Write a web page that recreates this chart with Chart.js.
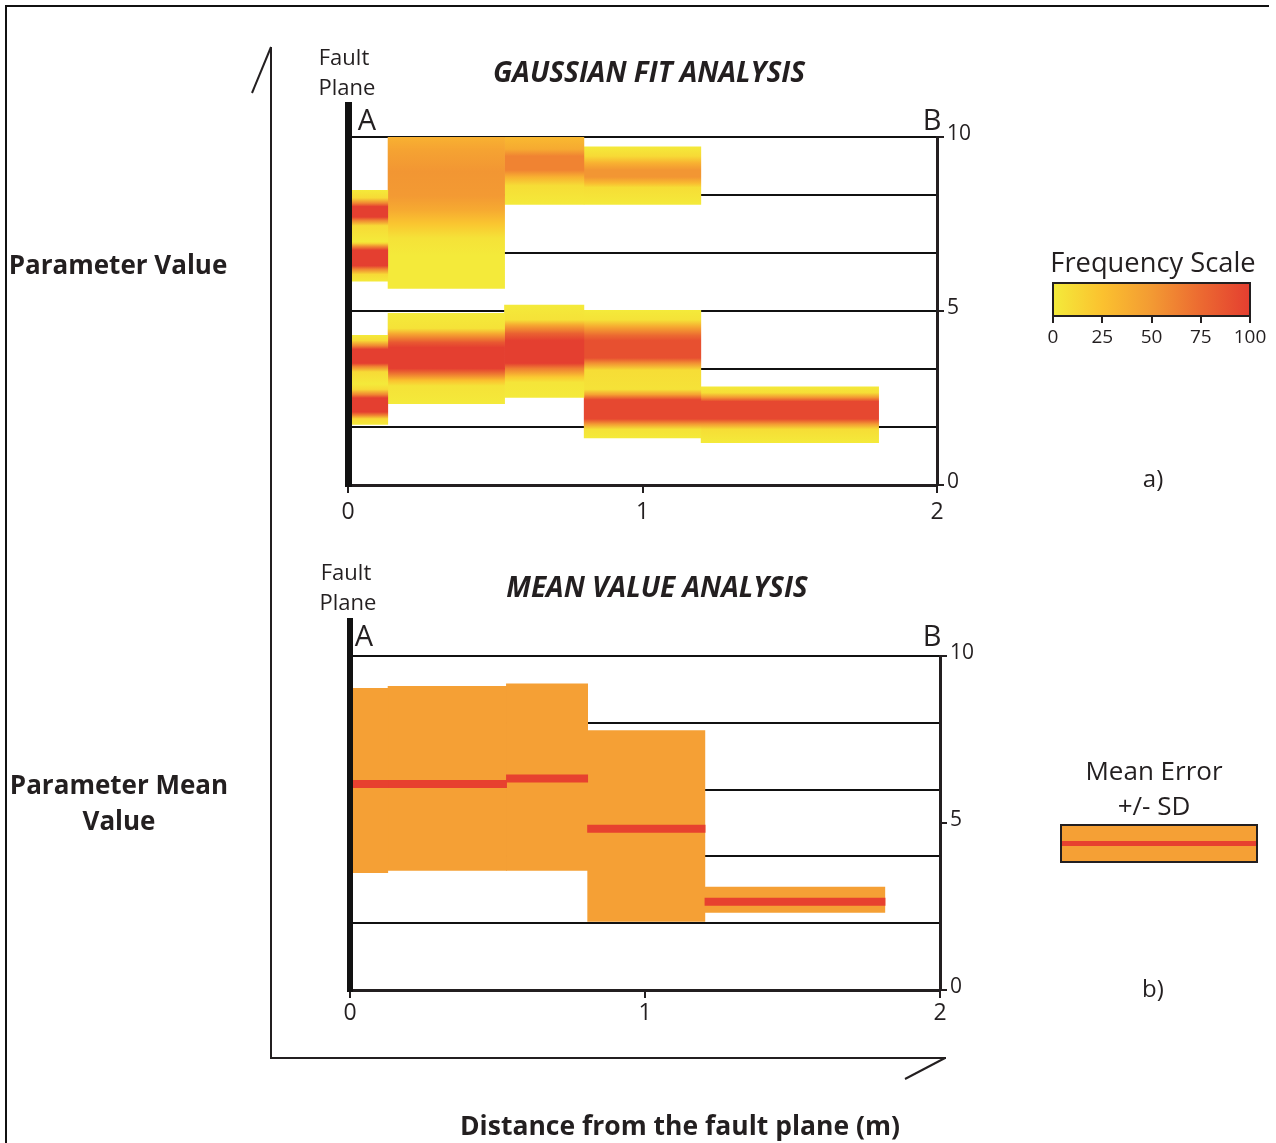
<!DOCTYPE html>
<html>
<head>
<meta charset="utf-8">
<script src="https://cdn.jsdelivr.net/npm/chart.js@4.4.1/dist/chart.umd.min.js"></script>
<style>
  body { margin: 0; background: #fff; font-family: "Open Sans", "Noto Sans", sans-serif; color: #231f20; }
  #page { position: relative; width: 1276px; height: 1143px; overflow: hidden; }
  #frame { position: absolute; left: 5px; top: 5px; width: 1262px; height: 1140px; border-top: 2px solid #111; border-left: 2px solid #111; }
  .t { position: absolute; transform: translate(-50%, -50%); white-space: nowrap; line-height: 1; }
  .b { font-weight: 700; }
  .bi { font-weight: 700; font-style: italic; }
  canvas { position: absolute; }
  svg { position: absolute; left: 0; top: 0; }
  .box { position: absolute; box-sizing: border-box; border: 2px solid #231f20; }
</style>
</head>
<body>
<div id="page">
  <div id="frame"></div>
  <canvas id="gaussChart" width="700" height="440" style="left:300px; top:100px;"></canvas>
  <canvas id="meanChart" width="700" height="420" style="left:300px; top:620px;"></canvas>
  <svg width="1276" height="1143">
    <g stroke="#231f20" stroke-width="2" fill="none">
      <line x1="271" y1="47" x2="271" y2="1059" />
      <line x1="270" y1="1058" x2="946" y2="1058" />
      <line x1="271" y1="47" x2="252" y2="93" />
      <line x1="945" y1="1058" x2="905" y2="1079" />
    </g>
    <rect x="345" y="102" width="7" height="385" fill="#111" />
    <rect x="347" y="618" width="6" height="374" fill="#111" />
  </svg>
  <div id="labels"></div>
</div>
<script>
// Gaussian fit panel: blocks as [x0, x1, bottom, top] (distance m, parameter value)
const gaussBlocks = [
  [0.0, 0.134, 5.85, 8.48],
  [0.0, 0.134, 1.73, 4.31],
  [0.134, 0.53, 5.64, 10.0],
  [0.134, 0.53, 2.33, 4.94],
  [0.53, 0.80, 8.05, 10.0],
  [0.53, 0.80, 2.51, 5.18],
  [0.80, 1.197, 8.05, 9.73],
  [0.80, 1.197, 1.34, 5.03],
  [1.197, 1.80, 1.21, 2.83],
];

// frequency profile of each block: [parameter value, frequency %]
const gaussProfiles = [
  [[8.48, 0], [8.25, 10], [8.1, 60], [8.0, 100], [7.7, 100], [7.6, 60], [7.45, 10], [7.0, 0], [6.95, 10], [6.85, 60], [6.75, 100], [6.3, 100], [6.2, 60], [6.05, 10], [5.85, 0]],
  [[4.31, 0], [4.15, 10], [4.0, 60], [3.9, 100], [3.5, 100], [3.4, 60], [3.25, 10], [2.9, 0], [2.75, 10], [2.6, 60], [2.5, 100], [2.1, 100], [2.0, 60], [1.9, 10], [1.73, 0]],
  [[10.0, 35], [9.6, 45], [9.0, 52], [8.3, 50], [7.9, 40], [7.5, 22], [7.1, 5], [6.6, 0], [5.64, 0]],
  [[4.94, 0], [4.5, 5], [4.35, 40], [4.1, 85], [3.95, 100], [3.35, 100], [3.2, 70], [3.0, 25], [2.85, 5], [2.33, 0]],
  [[10.0, 30], [9.65, 40], [9.45, 62], [9.05, 62], [8.85, 35], [8.6, 8], [8.05, 0]],
  [[5.18, 0], [4.75, 5], [4.6, 40], [4.35, 80], [4.15, 100], [3.5, 100], [3.35, 65], [3.1, 20], [2.95, 3], [2.51, 0]],
  [[9.73, 0], [9.45, 10], [9.25, 35], [9.05, 52], [8.85, 52], [8.68, 30], [8.55, 8], [8.05, 0]],
  [[5.03, 0], [4.75, 5], [4.55, 40], [4.3, 75], [4.15, 90], [3.65, 90], [3.5, 55], [3.3, 8], [2.75, 5], [2.6, 45], [2.45, 95], [1.9, 95], [1.75, 50], [1.6, 5], [1.34, 0]],
  [[2.83, 0], [2.65, 8], [2.52, 50], [2.4, 95], [1.9, 95], [1.75, 50], [1.6, 8], [1.21, 0]],
];

// Mean value panel
const meanX0 = [0.0, 0.127, 0.529, 0.804, 1.202];
const meanX1 = [0.127, 0.529, 0.804, 1.202, 1.812];
const meanValues = [6.17, 6.17, 6.33, 4.83, 2.64];
const sdLow = [3.5, 3.57, 3.57, 2.04, 2.31];
const sdHigh = [9.04, 9.1, 9.18, 7.78, 3.09];

// axes
const xTicks = [0, 1, 2];
const yTicks = [0, 5, 10];
const gaussGridLevels = [1.67, 3.33, 5, 6.67, 8.33, 10];
const meanGridLevels = [2, 4, 6, 8, 10];
const freqTicks = [0, 25, 50, 75, 100];
const freqStops = [
  [0, [244, 234, 58]],
  [25, [251, 193, 47]],
  [50, [243, 154, 51]],
  [75, [236, 106, 49]],
  [100, [228, 63, 48]],
];

const INK = '#231f20';
const SD_COLOR = '#f5a035';
const MEAN_COLOR = '#e7412f';
// neighbouring blocks overlap by this much so no anti-aliasing hairline shows between them
const SEAM = 0.003;

function freqColor(f) {
  for (let i = 1; i < freqStops.length; i++) {
    const [f0, c0] = freqStops[i - 1];
    const [f1, c1] = freqStops[i];
    if (f <= f1) {
      const t = (f - f0) / (f1 - f0);
      const c = c0.map((v, k) => Math.round(v + (c1[k] - v) * t));
      return `rgb(${c[0]}, ${c[1]}, ${c[2]})`;
    }
  }
  const c = freqStops[freqStops.length - 1][1];
  return `rgb(${c[0]}, ${c[1]}, ${c[2]})`;
}

function bandGradient(chart, block, profile) {
  const { ctx, chartArea, scales } = chart;
  if (!chartArea) return null;
  const y = scales.y;
  const top = y.getPixelForValue(block[3]);
  const bottom = y.getPixelForValue(block[2]);
  const g = ctx.createLinearGradient(0, top, 0, bottom);
  profile.forEach(([v, f]) => {
    const off = Math.min(1, Math.max(0, (y.getPixelForValue(v) - top) / (bottom - top)));
    g.addColorStop(off, freqColor(f));
  });
  return g;
}

function panelScales(gridLevels, xHeight, yWidth, xPad) {
  const font = (size) => ({ family: '"Open Sans", sans-serif', size });
  return {
    x: {
      type: 'linear', min: 0, max: 2,
      afterBuildTicks: (axis) => { axis.ticks = xTicks.map((v) => ({ value: v })); },
      ticks: { font: font(23), color: INK, padding: xPad },
      grid: { drawOnChartArea: false, drawTicks: true, tickLength: 8, color: INK, lineWidth: 2 },
      border: { color: INK, width: 3 },
      afterFit: (axis) => { axis.height = xHeight; },
    },
    y: {
      type: 'linear', position: 'right', min: 0, max: 10,
      afterBuildTicks: (axis) => { axis.ticks = yTicks.map((v) => ({ value: v })); },
      ticks: { font: font(21), color: INK, padding: 3, labelOffset: -3 },
      grid: { drawOnChartArea: false, drawTicks: true, tickLength: 7, color: INK, lineWidth: 2 },
      border: { color: INK, width: 3 },
      afterFit: (axis) => { axis.width = yWidth; },
    },
    yGrid: {
      type: 'linear', position: 'left', min: 0, max: 10, z: 1,
      afterBuildTicks: (axis) => { axis.ticks = gridLevels.map((v) => ({ value: v })); },
      ticks: { display: false },
      grid: { color: '#111', lineWidth: 2, drawTicks: false },
      border: { display: false },
      afterFit: (axis) => { axis.width = 0; },
    },
  };
}

const commonPlugins = { legend: { display: false }, tooltip: { enabled: false } };

new Chart(document.getElementById('gaussChart'), {
  type: 'line',
  data: {
    datasets: gaussBlocks.map((b, i) => ({
      data: [{ x: b[0], y: b[3] }, { x: b[1] + SEAM, y: b[3] }],
      fill: { value: b[2] },
      borderWidth: 0,
      pointRadius: 0,
      backgroundColor: (ctx) => bandGradient(ctx.chart, b, gaussProfiles[i]),
    })),
  },
  options: {
    responsive: false,
    animation: false,
    layout: { padding: { left: 48, top: 37, right: 0, bottom: 0 } },
    scales: panelScales(gaussGridLevels, 55, 63, 6),
    plugins: commonPlugins,
  },
});

const meanDatasets = [];
meanValues.forEach((m, i) => {
  meanDatasets.push({
    data: [{ x: meanX0[i], y: m }, { x: meanX1[i] + SEAM, y: m }],
    borderColor: MEAN_COLOR,
    borderWidth: 8,
    borderCapStyle: 'butt',
    pointRadius: 0,
    fill: false,
    order: 0,
  });
  meanDatasets.push({
    data: [{ x: meanX0[i], y: sdHigh[i] }, { x: meanX1[i] + SEAM, y: sdHigh[i] }],
    fill: { value: sdLow[i] },
    backgroundColor: SD_COLOR,
    borderWidth: 0,
    pointRadius: 0,
    order: 1,
  });
});

new Chart(document.getElementById('meanChart'), {
  type: 'line',
  data: { datasets: meanDatasets },
  options: {
    responsive: false,
    animation: false,
    layout: { padding: { left: 50, top: 36, right: 0, bottom: 0 } },
    scales: panelScales(meanGridLevels, 50, 60, 2),
    plugins: commonPlugins,
  },
});

// text and legends
const labels = document.getElementById('labels');
function addText(text, cx, cy, size, cls) {
  const d = document.createElement('div');
  d.className = 't' + (cls ? ' ' + cls : '');
  d.textContent = text;
  d.style.left = cx + 'px';
  d.style.top = cy + 'px';
  d.style.fontSize = size + 'px';
  labels.appendChild(d);
}
function addBox(left, top, width, height, bg) {
  const d = document.createElement('div');
  d.className = 'box';
  Object.assign(d.style, { left: left + 'px', top: top + 'px', width: width + 'px', height: height + 'px', background: bg });
  labels.appendChild(d);
  return d;
}

addText('Fault', 344, 56, 22);
addText('Plane', 347, 86, 22);
addText('GAUSSIAN FIT ANALYSIS', 649, 71, 28, 'bi');
addText('A', 367, 118, 29);
addText('B', 932, 118, 29);
addText('Parameter Value', 118, 264, 26, 'b');
addText('a)', 1153, 478, 24);

addText('Fault', 346, 571, 22);
addText('Plane', 348, 601, 22);
addText('MEAN VALUE ANALYSIS', 657, 586, 28, 'bi');
addText('A', 364, 634, 29);
addText('B', 932, 634, 29);
addText('Parameter Mean', 119, 784, 26, 'b');
addText('Value', 119, 820, 26, 'b');
addText('b)', 1153, 988, 24);

addText('Distance from the fault plane (m)', 680, 1125, 26.5, 'b');

// frequency scale legend
addText('Frequency Scale', 1153, 262, 27.3);
const barLeft = 1052, barWidth = 199;
const cssStops = freqStops.map(([f, c]) => `rgb(${c.join(',')}) ${f}%`).join(', ');
addBox(barLeft, 282, barWidth, 35, `linear-gradient(to right, ${cssStops})`);
freqTicks.forEach((f) => {
  const x = barLeft + 1 + (f / 100) * (barWidth - 2);
  const tick = document.createElement('div');
  Object.assign(tick.style, { position: 'absolute', left: (x - 1) + 'px', top: '316px', width: '2px', height: '7px', background: INK });
  labels.appendChild(tick);
  addText(String(f), x, 336, 19);
});

// mean error legend
addText('Mean Error', 1154, 770, 26);
addText('+/- SD', 1154, 805, 26);
const meanBox = addBox(1060, 824, 198, 39, SD_COLOR);
const redLine = document.createElement('div');
Object.assign(redLine.style, { position: 'absolute', left: '0', right: '0', top: '15px', height: '5px', background: MEAN_COLOR });
meanBox.appendChild(redLine);
</script>
</body>
</html>
